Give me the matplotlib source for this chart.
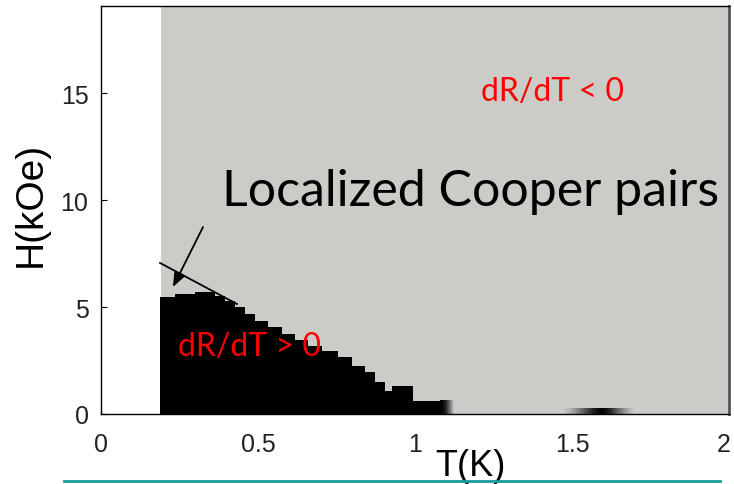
import numpy as np
import matplotlib.pyplot as plt
import matplotlib.transforms as mtransforms
from matplotlib.lines import Line2D

# -- phase diagram data: H(kOe) vs T(K) --
t_min_measured = 0.19          # lowest temperature with data
t_max = 2.0
h_max = 19.07

# upper edge of the dR/dT > 0 region (step-wise, left edge of each step)
T_edge = [0.188, 0.236, 0.299, 0.363, 0.395, 0.427, 0.459, 0.490, 0.532,
          0.576, 0.618, 0.660, 0.704, 0.755, 0.799, 0.841, 0.873, 0.904,
          0.927, 0.994, 1.11]
H_edge = [5.45, 5.59, 5.69, 5.50, 5.27, 4.99, 4.66, 4.34, 4.06,
          3.73, 3.45, 3.20, 2.94, 2.66, 2.24, 1.96, 1.49, 1.07,
          1.31, 0.61, 0.61]

# small dark patch near 1.6 K at zero field (0 = black, 0.8 = background)
blob_T = [1.46, 1.71]
blob_H = [0.0, 0.25]
blob_shade = [0.80, 0.68, 0.50, 0.30, 0.10, 0.0, 0.15, 0.40, 0.62, 0.80]

# fade on the right end of the low-field step
fade_T = [1.08, 1.13]
fade_shade = [0.0, 0.15, 0.45, 0.80]

bg_gray = '#cbcbc7'

fig = plt.figure(figsize=(7.34, 4.85), dpi=100)
ax = fig.add_axes([101/734, 70/485, 628/734, 408/485])

ax.set_xlim(0, t_max)
ax.set_ylim(0, h_max)

# measured area is gray (dR/dT < 0), no data below 0.19 K
ax.axvspan(t_min_measured, t_max, color=bg_gray, lw=0, zorder=0)
ax.fill_between(T_edge, H_edge, step='post', color='black', lw=0, zorder=1)

ax.imshow(np.array([blob_shade]), cmap='gray', vmin=0, vmax=1, aspect='auto',
          extent=[blob_T[0], blob_T[1], blob_H[0], blob_H[1]],
          interpolation='bilinear', zorder=2)
ax.imshow(np.array([fade_shade]), cmap='gray', vmin=0, vmax=1, aspect='auto',
          extent=[fade_T[0], fade_T[1], 0, H_edge[-1]],
          interpolation='bilinear', zorder=2)

# annotations
ax.text(1.437, 15.1, 'dR/dT < 0', color='red', fontsize=23,
        family='Lato', ha='center', va='center', zorder=5)
ax.text(0.245, 3.17, 'dR/dT > 0', color='red', fontsize=23,
        family='Lato', ha='left', va='center', zorder=5)
ax.text(0.385, 10.4, 'Localized Cooper pairs', color='black', fontsize=36,
        family='Lato', ha='left', va='center', zorder=5)

ax.annotate('', xy=(0.229, 5.93), xytext=(0.325, 8.74),
            arrowprops=dict(arrowstyle='-|>,head_length=0.9,head_width=0.35',
                            color='black', lw=1.3, shrinkA=0, shrinkB=0),
            zorder=6)
ax.plot([0.188, 0.433], [7.06, 5.14], color='black', lw=1.3, zorder=6)

# axes styling
ax.set_xticks([0, 0.5, 1, 1.5, 2])
ax.set_xticklabels(['0', '0.5', '1', '1.5', '2'])
ax.set_yticks([0, 5, 10, 15])
ax.tick_params(direction='in', length=4, width=0.8, labelsize=18,
               labelcolor='#222222')
ax.tick_params(axis='x', pad=13)
ax.tick_params(axis='y', pad=9)
for lab in ax.get_xticklabels() + ax.get_yticklabels():
    lab.set_family('Liberation Sans')
# keep the last x label inside the figure
last = ax.get_xticklabels()[-1]
last.set_transform(last.get_transform() +
                   mtransforms.ScaledTranslation(-5/100, 0, fig.dpi_scale_trans))

for s in ax.spines.values():
    s.set_linewidth(1.0)
ax.spines['right'].set_linewidth(2.0)
ax.spines['right'].set_color('#555555')

ax.set_ylabel('H(kOe)', fontsize=28, family='Liberation Sans')
ax.yaxis.set_label_coords(-0.083, 0.515)
ax.text(0.588, -0.127, 'T(K)', transform=ax.transAxes, fontsize=26,
        family='Liberation Sans', ha='center', va='center', clip_on=False)

# slide separator line
fig.add_artist(Line2D([64/734, 720/734], [3/485, 3/485], color='#1a9c9c',
                      lw=2.0, transform=fig.transFigure))

fig.savefig('out.png', dpi=100)
